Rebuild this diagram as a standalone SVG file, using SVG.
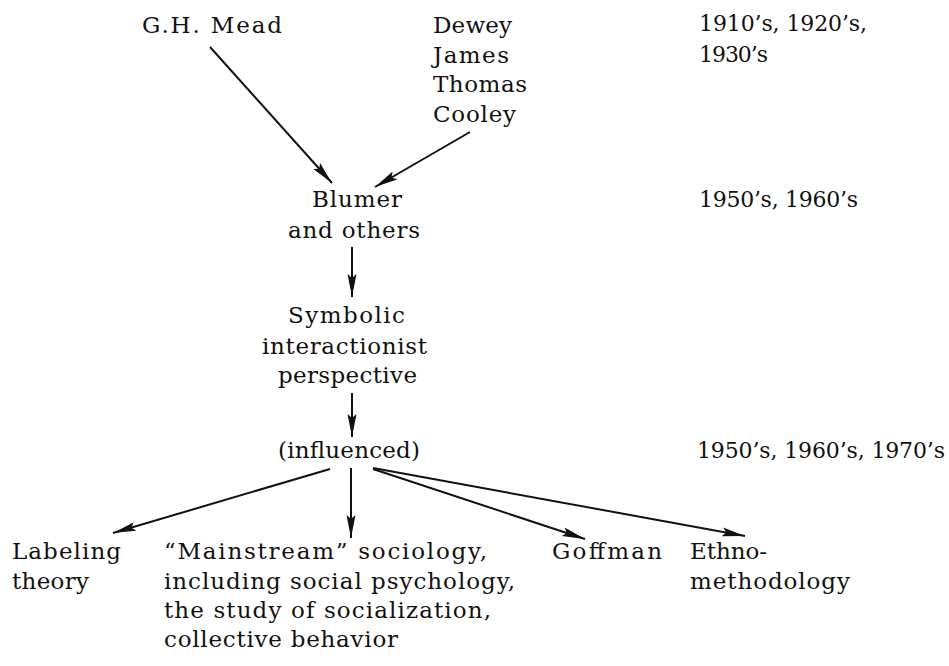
<svg xmlns="http://www.w3.org/2000/svg" width="949" height="666" viewBox="0 0 949 666">
<style>
text{font-family:"DejaVu Serif",serif;font-size:23px;fill:#111}
text.era{font-size:22px}
.c line{stroke:#111;stroke-width:2;marker-end:url(#ah)}
</style>
<defs>
<marker id="ah" markerUnits="userSpaceOnUse" markerWidth="26" markerHeight="12" refX="23" refY="5" orient="auto">
<path d="M0,0.5 L23,5 L0,9.5 L4,5 z" fill="#111"/>
</marker>
</defs>
<rect width="949" height="666" fill="#fff"/>
<g id="mead"><text x="142" y="33" textLength="140" lengthAdjust="spacing">G.H. Mead</text></g>
<g id="dewey">
<text x="433" y="33" textLength="79" lengthAdjust="spacing">Dewey</text>
<text x="433" y="63" textLength="76" lengthAdjust="spacing">James</text>
<text x="433" y="92" textLength="94" lengthAdjust="spacing">Thomas</text>
<text x="433" y="122" textLength="83" lengthAdjust="spacing">Cooley</text>
</g>
<g id="era1">
<text class="era" x="699" y="31" textLength="168" lengthAdjust="spacing">1910’s, 1920’s,</text>
<text class="era" x="699" y="62" textLength="69" lengthAdjust="spacing">1930’s</text>
</g>
<g id="blumer">
<text x="312" y="207" textLength="90" lengthAdjust="spacing">Blumer</text>
<text x="288" y="238" textLength="132" lengthAdjust="spacing">and others</text>
</g>
<g id="era2"><text class="era" x="699" y="207" textLength="159" lengthAdjust="spacing">1950’s, 1960’s</text></g>
<g id="symbolic">
<text x="288" y="323" textLength="117" lengthAdjust="spacing">Symbolic</text>
<text x="262" y="354" textLength="165" lengthAdjust="spacing">interactionist</text>
<text x="278" y="383" textLength="139" lengthAdjust="spacing">perspective</text>
</g>
<g id="influenced"><text x="278" y="458" textLength="142" lengthAdjust="spacing">(influenced)</text></g>
<g id="era3"><text class="era" x="697" y="458" textLength="248" lengthAdjust="spacing">1950’s, 1960’s, 1970’s</text></g>
<g id="labeling">
<text x="12" y="559" textLength="109" lengthAdjust="spacing">Labeling</text>
<text x="12" y="589" textLength="77" lengthAdjust="spacing">theory</text>
</g>
<g id="mainstream">
<text x="164" y="559" textLength="323" lengthAdjust="spacing">“Mainstream” sociology,</text>
<text x="164" y="589" textLength="351" lengthAdjust="spacing">including social psychology,</text>
<text x="164" y="618" textLength="327" lengthAdjust="spacing">the study of socialization,</text>
<text x="164" y="647" textLength="234" lengthAdjust="spacing">collective behavior</text>
</g>
<g id="goffman"><text x="552" y="559" textLength="110" lengthAdjust="spacing">Goffman</text></g>
<g id="ethno">
<text x="690" y="559" textLength="77" lengthAdjust="spacing">Ethno-</text>
<text x="690" y="589" textLength="160" lengthAdjust="spacing">methodology</text>
</g>
<g id="connectors" class="c">
<line x1="210" y1="47" x2="332" y2="183"/>
<line x1="470" y1="132" x2="375" y2="187"/>
<line x1="352" y1="247" x2="352" y2="297"/>
<line x1="352" y1="393" x2="352" y2="437"/>
<line x1="330" y1="469" x2="113" y2="533"/>
<line x1="351" y1="468" x2="351" y2="538"/>
<line x1="373" y1="469" x2="585" y2="539"/>
<line x1="373" y1="468" x2="745" y2="536"/>
</g>
</svg>
